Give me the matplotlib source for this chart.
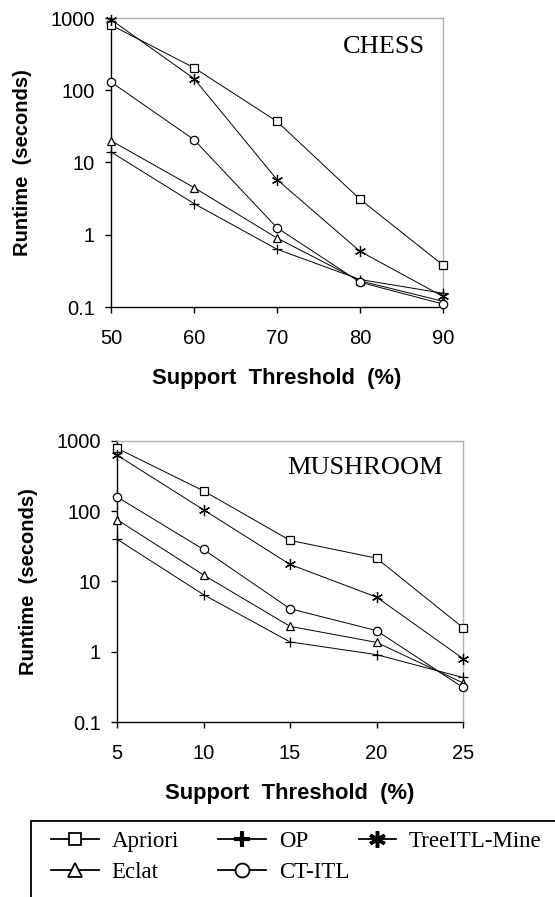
import matplotlib
matplotlib.use("Agg")
import matplotlib.pyplot as plt
from matplotlib.lines import Line2D
from matplotlib.patches import Rectangle
from matplotlib.ticker import FixedLocator, FixedFormatter, NullLocator

# ---------------- data ----------------
chess_support = [50, 60, 70, 80, 90]
chess_apriori = [800, 205, 37, 3.1, 0.38]
chess_op = [14, 2.7, 0.63, 0.24, 0.155]
chess_treeitl = [950, 145, 5.8, 0.59, 0.14]
chess_eclat = [20, 4.5, 0.9, 0.23, 0.12]
chess_ctitl = [130, 20.7, 1.25, 0.22, 0.11]

mush_support = [5, 10, 15, 20, 25]
mush_apriori = [790, 195, 38.5, 21.5, 2.2]
mush_op = [40, 6.5, 1.38, 0.91, 0.43]
mush_treeitl = [630, 105, 17.5, 6.0, 0.8]
mush_eclat = [76, 12.4, 2.3, 1.36, 0.36]
mush_ctitl = [160, 28.6, 4.1, 2.0, 0.31]

series_names = ["Apriori", "OP", "TreeITL-Mine", "Eclat", "CT-ITL"]
y_ticks = [0.1, 1, 10, 100, 1000]
y_ticklabels = ["0.1", "1", "10", "100", "1000"]
chess_xticks = [50, 60, 70, 80, 90]
mush_xticks = [5, 10, 15, 20, 25]

SANS = ["Liberation Sans", "DejaVu Sans"]
SERIF = ["Liberation Serif", "DejaVu Serif"]

ASTER = (6, 2, 0)
styles = {
    "Apriori": dict(marker="s", ms=5.5, mfc="white"),
    "OP": dict(marker="+", ms=7),
    "TreeITL-Mine": dict(marker=ASTER, ms=8),
    "Eclat": dict(marker="^", ms=6, mfc="white"),
    "CT-ITL": dict(marker="o", ms=6, mfc="white"),
}

W, H = 555, 897
fig = plt.figure(figsize=(W / 100, H / 100), dpi=100)


def fx(px):
    return px / W


def fy(py):
    return 1 - py / H


def make_axes(left, right, top, bottom, xs, data, xticks, title, title_xy):
    ax = fig.add_axes([fx(left), fy(bottom), fx(right) - fx(left), fy(top) - fy(bottom)])
    for name, ys in zip(series_names, data):
        st = styles[name]
        ax.plot(xs, ys, color="black", lw=0.7, marker=st["marker"], ms=st["ms"],
                mfc=st.get("mfc", "black"), mec="black", mew=0.9, clip_on=False, zorder=3)
    ax.set_yscale("log")
    ax.set_ylim(0.1, 1000)
    ax.set_xlim(xs[0], xs[-1])
    ax.yaxis.set_major_locator(FixedLocator(y_ticks))
    ax.yaxis.set_major_formatter(FixedFormatter(y_ticklabels))
    ax.yaxis.set_minor_locator(NullLocator())
    ax.set_xticks(xticks)
    ax.set_xticklabels([str(v) for v in xticks])
    for lab in ax.get_xticklabels() + ax.get_yticklabels():
        lab.set_family(SANS)
        lab.set_fontsize(14.5)
    ax.tick_params(axis="y", direction="out", length=4.5, width=1.0, pad=7)
    ax.tick_params(axis="x", direction="out", length=4.5, width=1.0, pad=11)
    ax.spines["left"].set_color("black")
    ax.spines["bottom"].set_color("black")
    ax.spines["left"].set_linewidth(1.0)
    ax.spines["bottom"].set_linewidth(1.0)
    for s in ("top", "right"):
        ax.spines[s].set_color("#b0b0b0")
        ax.spines[s].set_linewidth(1.0)
    ax.set_ylabel("Runtime  (seconds)", family=SANS, fontsize=14.5, fontweight="bold", labelpad=13)
    ax.set_xlabel("Support  Threshold  (%)", family=SANS, fontsize=15.8, fontweight="bold", labelpad=15)
    fig.text(fx(title_xy[0]), fy(title_xy[1]), title, family=SERIF, fontsize=19,
             ha="center", va="center",
             bbox=dict(facecolor="white", edgecolor="none", pad=2))
    return ax


make_axes(111, 443, 18, 307, chess_support,
          [chess_apriori, chess_op, chess_treeitl, chess_eclat, chess_ctitl],
          chess_xticks, "CHESS", (384, 47))
make_axes(117, 463, 441, 722, mush_support,
          [mush_apriori, mush_op, mush_treeitl, mush_eclat, mush_ctitl],
          mush_xticks, "MUSHROOM", (365, 468))

# ---------------- legend ----------------
leg_styles = {
    "Apriori": dict(marker="s", ms=9, mfc="white", mew=1.3),
    "OP": dict(marker="+", ms=11, mfc="black", mew=3),
    "TreeITL-Mine": dict(marker=ASTER, ms=12, mfc="black", mew=2.5),
    "Eclat": dict(marker="^", ms=10, mfc="white", mew=1.3),
    "CT-ITL": dict(marker="o", ms=10, mfc="white", mew=1.3),
}


def handle(name):
    st = leg_styles[name]
    return Line2D([], [], color="black", lw=1.3, marker=st["marker"], ms=st["ms"],
                  mfc=st["mfc"], mec="black", mew=st["mew"])


columns = [["Apriori", "Eclat"], ["OP", "CT-ITL"], ["TreeITL-Mine"]]
col_x = [51, 218, 359]
col_hl = [2.1, 2.1, 1.6]
for names, x, hl in zip(columns, col_x, col_hl):
    fig.legend([handle(n) for n in names], names, loc="upper left",
               bbox_to_anchor=(fx(x), fy(831)), frameon=False,
               prop=dict(family=SERIF, size=16.5), handlelength=hl,
               handletextpad=0.55, labelspacing=0.45, borderpad=0, borderaxespad=0)

fig.patches.append(Rectangle((fx(31), fy(910)), fx(560) - fx(31), fy(821) - fy(910),
                             transform=fig.transFigure, fill=False, edgecolor="black",
                             lw=1.3))

fig.savefig("out.png", dpi=100)
